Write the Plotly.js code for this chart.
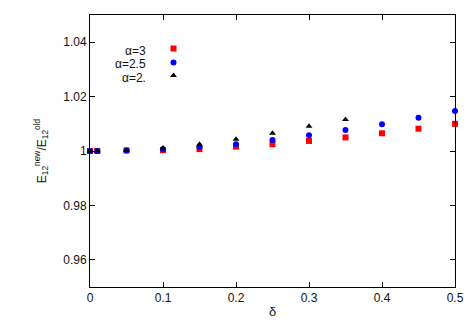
<!DOCTYPE html>
<html>
<head>
<meta charset="utf-8">
<script src="https://cdn.plot.ly/plotly-3.0.1.min.js"></script>
<style>
  html, body { margin: 0; padding: 0; background: #fff; }
  #chart { width: 469px; height: 328px; }
</style>
</head>
<body>
<div id="chart"></div>
<script>
// delta values (x axis)
const delta = [0, 0.01, 0.05, 0.1, 0.15, 0.2, 0.25, 0.3, 0.35, 0.4, 0.45, 0.5];
const deltaShort = [0, 0.01, 0.05, 0.1, 0.15, 0.2, 0.25, 0.3, 0.35];

// E12 new / E12 old ratios
const alpha3 = [1.0, 1.0, 1.0002, 1.0003, 1.0007, 1.0016, 1.0025, 1.0037, 1.0050, 1.0065, 1.0082, 1.0100];
const alpha25 = [1.0, 1.0, 1.0002, 1.0006, 1.0015, 1.0025, 1.0040, 1.0058, 1.0077, 1.0098, 1.0122, 1.0147];
const alpha2 = [1.0, 1.0, 1.0003, 1.0011, 1.0025, 1.0043, 1.0065, 1.0091, 1.0116];

const seriesLabels = ['α=3', 'α=2.5', 'α=2.'];
const yTicks = [0.96, 0.98, 1, 1.02, 1.04];
const xTicks = [0, 0.1, 0.2, 0.3, 0.4, 0.5];

const font = { family: 'Liberation Sans, Arial, sans-serif', size: 12, color: '#111' };

const traces = [
  { x: delta, y: alpha3, name: ' ', legend: 'legend', type: 'scatter', mode: 'markers', cliponaxis: false,
    marker: { symbol: 'square', size: 6, color: '#ff0000' } },
  { x: delta, y: alpha25, name: ' ', legend: 'legend2', type: 'scatter', mode: 'markers', cliponaxis: false,
    marker: { symbol: 'circle', size: 6, color: '#0000ff' } },
  { x: deltaShort, y: alpha2, name: ' ', legend: 'legend3', type: 'scatter', mode: 'markers', cliponaxis: false,
    marker: { symbol: 'triangle-up', size: 6, color: '#000000' } }
];

// one small legend per series so the rows sit as tight as in the original;
// the labels go left of the symbols as annotations
const legendTop = [0.930, 0.879, 0.831];
const labelY = [0.868, 0.819, 0.770];
const legendBox = (i) => ({
  x: 0.174, y: legendTop[i], xanchor: 'left', yanchor: 'top',
  bgcolor: 'rgba(0,0,0,0)', font: { family: font.family, size: 9 }, itemwidth: 30
});
const annotations = seriesLabels.map((t, i) => ({
  text: t, xref: 'paper', yref: 'paper', x: 0.160, y: labelY[i],
  xanchor: 'right', yanchor: 'middle', showarrow: false, font: font
}));

const layout = {
  width: 469, height: 328,
  margin: { l: 90, r: 14, t: 15, b: 41 },
  paper_bgcolor: '#fff', plot_bgcolor: '#fff',
  font: font,
  showlegend: true,
  legend: legendBox(0),
  legend2: legendBox(1),
  legend3: legendBox(2),
  annotations: annotations,
  xaxis: {
    range: [0, 0.5], tickvals: xTicks, ticktext: xTicks.map(String),
    ticks: 'inside', ticklen: 5, tickcolor: '#000', showline: true, linecolor: '#000',
    linewidth: 1, mirror: 'ticks', showgrid: false, zeroline: false,
    title: { text: 'δ', font: { family: font.family, size: 13, color: '#111' }, standoff: 2 }
  },
  yaxis: {
    range: [0.95, 1.05], tickvals: yTicks, ticktext: ['0.96', '0.98', '1', '1.02', '1.04'],
    ticks: 'inside', ticklen: 5, tickcolor: '#000', showline: true, linecolor: '#000',
    linewidth: 1, mirror: 'ticks', showgrid: false, zeroline: false,
    title: { text: 'E<sub>12</sub><sup>new</sup>/E<sub>12</sub><sup>old</sup>', font: font, standoff: 14 }
  }
};

Plotly.newPlot('chart', traces, layout, { displayModeBar: false, staticPlot: true });
</script>
</body>
</html>
